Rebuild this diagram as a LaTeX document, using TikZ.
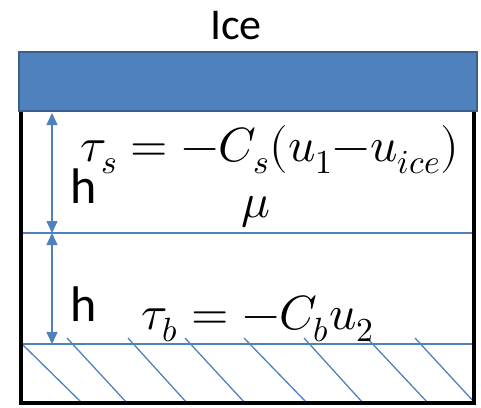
\documentclass[tikz,border=0pt]{standalone}
\usepackage{fontspec}
\usepackage{unicode-math}
\setsansfont{Carlito}
\setmathfont{Latin Modern Math}
\usetikzlibrary{arrows.meta}
\definecolor{iceblue}{HTML}{4F81BD}
\definecolor{iceedge}{HTML}{3A5F8C}
\begin{document}
\begin{tikzpicture}[
		x=1pt, y=-1pt,
		label text/.style={font=\sffamily\fontsize{44}{44}\selectfont, inner sep=0pt},
		h text/.style={font=\sffamily\fontsize{50}{50}\selectfont, inner sep=0pt},
		eq text/.style={font=\fontsize{48}{48}\selectfont, inner sep=0pt},
		layer line/.style={iceblue, line width=1.5pt},
		depth arrow/.style={iceblue, line width=1.5pt, {Triangle[length=12pt,width=11pt]}-{Triangle[length=12pt,width=11pt]}},
		hatch/.style={iceblue, line width=1.3pt},
		line cap=butt,
		line join=miter
		]
		\useasboundingbox (0,0) rectangle (481,407);
		
		% ---- лёд ----
		\node[label text] (ice) at (236,26) {Ice};
		\draw[iceedge, fill=iceblue, line width=2.5pt] (19,52) rectangle (477,111);
		
		% ---- опорные точки ----
		\coordinate (top) at (52,113);
		\coordinate (mid) at (52,233);
		\coordinate (bot) at (52,344);
		\coordinate (midL) at (20,233);
		\coordinate (midR) at (475,233);
		\coordinate (botL) at (20,344);
		\coordinate (botR) at (475,344);
		
		% ---- слои ----
		\draw[layer line] (midL)--(midR);
		\draw[layer line] (botL)--(botR);
		\draw[depth arrow] (top)--(mid);
		\draw[depth arrow] (mid)--(bot);
		
		% ---- штриховка дна ----
		\foreach \xa/\ya/\xb in {22/344/82, 67/338/127, 128/338/187, 185/338/245, 244/338/307, 304/338/363, 367/338/428, 415/338/475}
			\draw[hatch] (\xa,\ya)--(\xb,403);
		
		% ---- подписи ----
		\node[h text] (h1) at (84,186) {h};
		\node[h text] (h2) at (84,304) {h};
		\node[eq text] (taus) at (270,150) {$\tau_s=-C_s(u_1{-}u_{ice})$};
		\node[eq text] (mu) at (256,212) {$\mu$};
		\node[eq text] (taub) at (258,319) {$\tau_b=-C_b u_2$};
		
		% ---- рамка ----
		\draw[black, line width=4pt] (21,112)--(21,403)--(474,403)--(474,112);
	\end{tikzpicture}
\end{document}
